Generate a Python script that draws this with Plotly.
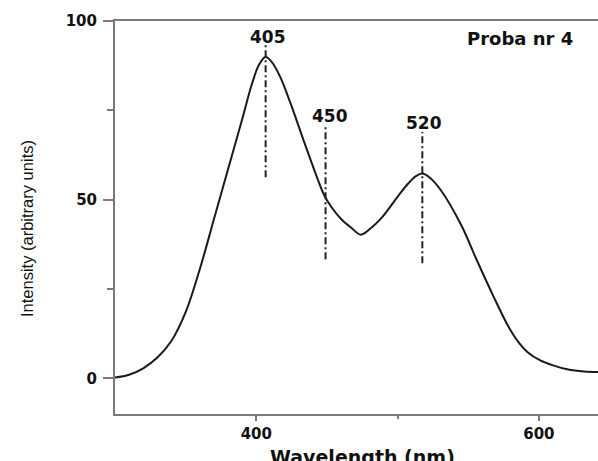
import plotly.graph_objects as go

# Spectrum
wavelength = [300, 310, 320, 330, 340, 350, 360, 370, 380, 390, 397, 402, 406.5, 411, 417, 424,
              436, 448, 453, 460, 467, 474, 481, 488, 500, 507, 513, 517.5, 522, 530.5, 545, 556,
              568, 578, 585, 592, 601, 610, 620, 632, 650]
intensity = [0.2, 1.0, 2.8, 5.8, 10.5, 18.5, 30.5, 44.5, 58.5, 72.5, 82.5, 87.8, 89.9, 88.5, 84.3, 77.2,
             63.8, 51.3, 48.0, 44.6, 42.2, 40.2, 42.0, 44.6, 50.8, 54.3, 56.6, 57.3, 56.4, 52.7, 42.9, 33.1,
             22.8, 14.8, 10.4, 7.3, 5.0, 3.6, 2.5, 1.9, 1.7]

# Peak markers
peak_labels = ["405", "450", "520"]
peak_x = [406.6, 449.0, 517.5]
peak_top = [93.2, 70.3, 68.9]
peak_bottom = [56.3, 33.3, 32.2]
label_x = [408.5, 452.5, 519.0]
label_y = [95.5, 73.5, 71.4]

sample_label = "Proba nr 4"
x_title = "Wavelength (nm)"
y_title = "Intensity (arbitrary units)"

x_major = [400, 600]
x_minor = [500]
y_major = [0, 50, 100]
y_minor = [25, 75]

AX = "#7a7a7a"
TXT = "#111111"
BOLD = dict(family="DejaVu Sans", size=15, color=TXT, weight="bold")

# plot area in page pixels
L, T, R, B = 115, 21, 598, 414
W, H = R - L, B - T

fig = go.Figure()
fig.add_trace(go.Scatter(x=wavelength, y=intensity, mode="lines",
                         line=dict(color="#1a1a1a", width=2, shape="spline", smoothing=1.0),
                         hoverinfo="skip", showlegend=False))

for px, t, b in zip(peak_x, peak_top, peak_bottom):
    fig.add_trace(go.Scatter(x=[px, px], y=[b, t], mode="lines",
                             line=dict(color="#222222", width=2, dash="7px,3px,2px,3px"),
                             hoverinfo="skip", showlegend=False))

annotations = []
for lab, lx, ly in zip(peak_labels, label_x, label_y):
    annotations.append(dict(x=lx, y=ly, xref="x", yref="y", text=lab, showarrow=False,
                            xanchor="center", yanchor="middle",
                            font=dict(family="DejaVu Sans", size=17, color=TXT, weight="bold")))
annotations.append(dict(x=548.0, y=95.0, xref="x", yref="y", text=sample_label, showarrow=False,
                        xanchor="left", yanchor="middle",
                        font=dict(family="DejaVu Sans", size=18, color=TXT, weight="bold")))
annotations.append(dict(x=(362 - L) / W, y=(B - 444) / H, xref="paper", yref="paper",
                        text=x_title, showarrow=False, xanchor="center", yanchor="top",
                        font=dict(family="DejaVu Sans", size=19, color=TXT, weight="bold")))
annotations.append(dict(x=(27 - L) / W, y=(B - 229) / H, xref="paper", yref="paper",
                        text=y_title, showarrow=False, textangle=-90, xanchor="center", yanchor="middle",
                        font=dict(family="Liberation Sans", size=16.5, color=TXT)))

fig.update_layout(
    width=598, height=461,
    margin=dict(l=L, r=598 - R, t=T, b=461 - B),
    paper_bgcolor="white", plot_bgcolor="white",
    annotations=annotations,
    xaxis=dict(range=[300, 300 + W / 1.413], showgrid=False, zeroline=False,
               showline=True, linecolor=AX, linewidth=2, mirror=True,
               tickmode="array", tickvals=x_major, ticktext=[str(v) for v in x_major],
               ticks="outside", ticklen=5, tickwidth=2, tickcolor=AX,
               tickfont=BOLD,
               minor=dict(tickmode="array", tickvals=x_minor, ticks="outside", ticklen=3,
                          tickwidth=2, tickcolor=AX, showgrid=False)),
    yaxis=dict(range=[-10, 100], showgrid=False, zeroline=False,
               showline=True, linecolor=AX, linewidth=2,
               tickmode="array", tickvals=y_major, ticktext=[str(v) for v in y_major],
               ticks="outside", ticklen=10, tickwidth=2, tickcolor=AX,
               tickfont=BOLD, ticklabelstandoff=3,
               minor=dict(tickmode="array", tickvals=y_minor, ticks="outside", ticklen=6,
                          tickwidth=2, tickcolor=AX, showgrid=False)),
)

fig.write_html("out.html", config={"displayModeBar": False},
               post_script="document.body.style.margin='0px';document.body.style.overflow='hidden';")
